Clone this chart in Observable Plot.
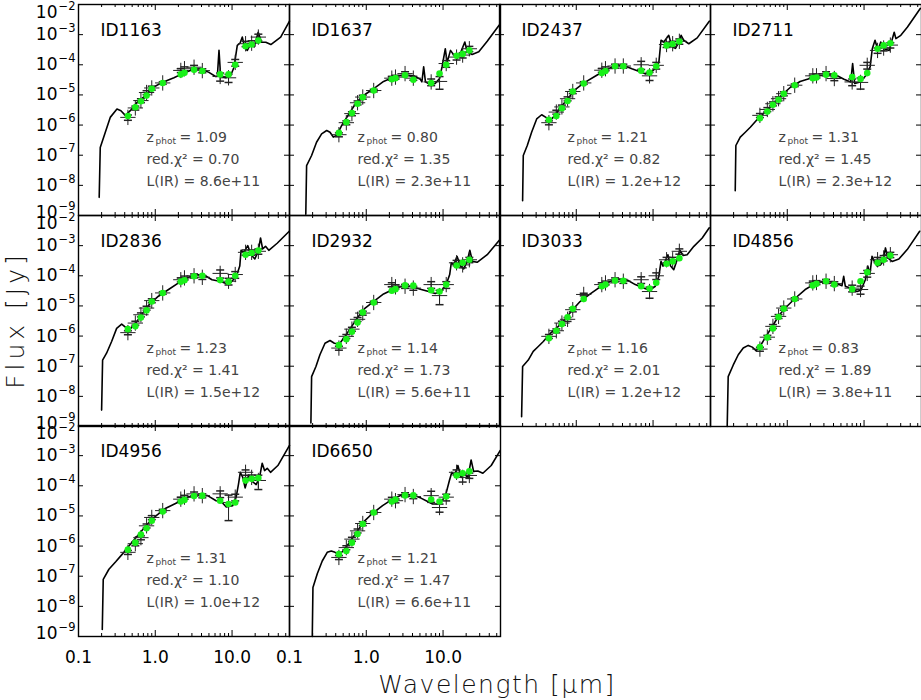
<!DOCTYPE html>
<html>
<head>
<meta charset="utf-8">
<script src="https://cdn.jsdelivr.net/npm/d3@7"></script>
<script src="https://cdn.jsdelivr.net/npm/@observablehq/plot@0.6"></script>
<style>
  body { margin: 0; background: #fff; }
  #chart { position: relative; width: 921px; height: 700px; font-family: "DejaVu Sans", sans-serif; overflow: hidden; }
  .panel { position: absolute; }
  #ytitle { position: absolute; left: 15px; top: 320px; transform: translate(-50%, -50%) rotate(-90deg);
            font-size: 25px; letter-spacing: 4px; font-weight: 300; color: #111; white-space: nowrap; }
  #xtitle { position: absolute; left: 497px; top: 684px; transform: translate(-50%, -50%);
            font-size: 25px; letter-spacing: 1.5px; font-weight: 300; color: #111; white-space: nowrap; }
</style>
</head>
<body>
<div id="chart">
  <div id="ytitle">Flux [Jy]</div>
  <div id="xtitle">Wavelength [μm]</div>
</div>
<script>
// filter wavelengths (micron) of the photometric points
const filterLam = [0.44, 0.55, 0.65, 0.77, 0.90, 1.25, 2.15, 2.4, 3.2, 4.1, 7.0, 9.0, 11.0, 15.0, 18.0, 22.0];

const ids = ["ID1163", "ID1637", "ID2437", "ID2711", "ID2836", "ID2932", "ID3033", "ID4856", "ID4956", "ID6650"];
const zphot = [1.09, 0.80, 1.21, 1.31, 1.23, 1.14, 1.16, 0.83, 1.31, 1.21];
const redChi2 = [0.70, 1.35, 0.82, 1.45, 1.41, 1.73, 2.01, 1.89, 1.10, 1.47];
const lirText = ["8.6e+11", "2.3e+11", "1.2e+12", "2.3e+12", "1.5e+12", "5.6e+11", "1.2e+12", "3.8e+11", "1.0e+12", "6.6e+11"];

// axis ticks
const xMajor = [0.1, 1, 10];
const xTickText = ["0.1", "1.0", "10.0"];
const xMinor = [0.2, 0.3, 0.4, 0.5, 0.6, 0.7, 0.8, 0.9, 2, 3, 4, 5, 6, 7, 8, 9, 20, 30, 40, 50];
const yDecades = [1e-9, 1e-8, 1e-7, 1e-6, 1e-5, 1e-4, 1e-3, 1e-2];

// ---- ID1163
const sedLam1163 = [0.186,0.192,0.223,0.259,0.317,0.357,0.407,0.473,0.579,0.744,0.91,1.23,1.75,2.24,3.03,3.89,5.0,6.1,6.43,6.76,7.1,8.3,9.6,10.6,11.7,12.7,13.6,14.6,15.8,17.5,19.4,21.9,24.2,27.5,32,43,56];
const sedFlux1163 = [4.0e-9,1.8e-7,5.7e-7,1.8e-6,3.4e-6,3.0e-6,2.1e-6,3.0e-6,5.7e-6,9.5e-6,1.7e-5,2.6e-5,3.7e-5,5.0e-5,6.9e-5,7.4e-5,5.6e-5,4.1e-5,4.1e-5,3.0e-4,4.1e-5,3.7e-5,4.4e-5,8.3e-5,4.4e-4,5.2e-4,8.3e-4,3.9e-4,3.0e-4,5.0e-4,3.9e-4,1.2e-3,5.6e-4,5.6e-4,4.7e-4,8.3e-4,2.8e-3];
const model1163 = [2.0e-6,3.9e-6,6.2e-6,9.5e-6,1.6e-5,2.5e-5,4.8e-5,5.4e-5,6.8e-5,6.2e-5,4.8e-5,4.8e-5,1.0e-4,4.1e-4,4.7e-4,6.4e-4];
const obs1163 = [1.8e-6,3.7e-6,6.5e-6,1.2e-5,1.7e-5,2.5e-5,6.5e-5,7.4e-5,8.3e-5,6.4e-5,4.1e-5,3.7e-5,1.2e-4,5.0e-4,5.2e-4,8.3e-4];
const err1163 = [0.2,0.15,0.15,0.15,0.15,0.1,0.15,0.15,0.15,0.15,0.3,0.3,0.25,0.2,0.2,0.25];

// ---- ID1637
const sedLam1637 = [0.163,0.167,0.194,0.225,0.262,0.305,0.337,0.372,0.411,0.479,0.615,0.75,0.92,1.24,1.68,2.26,3.06,4.14,5.06,5.3,5.59,5.9,6.8,7.9,9.0,9.7,10.7,11.3,12.5,13.8,15.2,16.9,19.2,20.6,23.9,29.2,37.6,54];
const sedFlux1637 = [1.1e-9,4.5e-8,9.8e-8,2.7e-7,5.1e-7,6.6e-7,5.8e-7,4.0e-7,4.5e-7,9.7e-7,2.7e-6,5.8e-6,9.6e-6,1.6e-5,2.8e-5,3.9e-5,4.7e-5,4.3e-5,3.3e-5,2.7e-5,8.5e-5,2.7e-5,2.2e-5,2.4e-5,3.5e-5,8.5e-5,3.4e-4,1.2e-4,3.0e-4,2.1e-4,1.6e-4,2.5e-4,5.7e-4,2.7e-4,2.2e-4,2.7e-4,6.0e-4,2.1e-3];
const model1637 = [5.5e-7,1.25e-6,2.5e-6,5.1e-6,8.3e-6,1.4e-5,3.3e-5,3.6e-5,4.5e-5,3.2e-5,2.5e-5,5.1e-5,1.0e-4,2.0e-4,2.3e-4,3.0e-4];
const obs1637 = [4.8e-7,1.2e-6,2.4e-6,5.5e-6,8.5e-6,1.4e-5,3.6e-5,3.9e-5,5.1e-5,3.6e-5,2.7e-5,2.8e-5,1.1e-4,1.8e-4,2.1e-4,3.4e-4];
const err1637 = [0.15,0.15,0.15,0.15,0.15,0.1,0.15,0.15,0.15,0.15,0.25,0.45,0.25,0.2,0.2,0.2];

// ---- ID2437
const sedLam2437 = [0.2,0.204,0.23,0.262,0.305,0.354,0.403,0.455,0.529,0.646,0.79,0.967,1.26,1.85,2.5,3.2,4.14,5.3,6.5,7.9,9.2,10.7,11.9,12.7,13.8,16.0,17.7,19.6,21.7,23.2,25.1,29.2,37.6,54];
const sedFlux2437 = [3.1e-9,9.8e-8,2.1e-7,5.8e-7,1.6e-6,2.2e-6,1.8e-6,1.4e-6,2.1e-6,4.3e-6,7.9e-6,1.5e-5,2.5e-5,4.5e-5,6.9e-5,9.5e-5,9.5e-5,7.4e-5,6.1e-5,5.0e-5,5.5e-5,7.4e-5,1.2e-4,6.5e-4,5.7e-4,9.5e-4,3.9e-4,3.5e-4,5.7e-4,9.5e-4,6.5e-4,5.0e-4,7.8e-4,2.8e-3];
const model2437 = [1.5e-6,2.0e-6,3.6e-6,6.3e-6,1.3e-5,2.4e-5,5.3e-5,6.2e-5,8.9e-5,8.9e-5,6.4e-5,5.5e-5,8.9e-5,4.4e-4,4.9e-4,5.9e-4];
const obs2437 = [1.2e-6,2.7e-6,4.0e-6,7.5e-6,1.3e-5,2.5e-5,6.6e-5,7.4e-5,9.1e-5,9.1e-5,1.0e-4,4.3e-5,9.6e-5,4.7e-4,5.0e-4,6.0e-4];
const err2437 = [0.15,0.15,0.15,0.15,0.15,0.1,0.15,0.15,0.15,0.15,0.3,0.3,0.25,0.2,0.2,0.2];

// ---- ID2711
const sedLam2711 = [0.21,0.214,0.244,0.284,0.33,0.403,0.513,0.667,0.855,1.1,1.47,2.01,2.71,3.48,4.48,5.48,6.7,7.1,7.55,8.9,10.5,12.0,12.8,13.9,15.2,16.5,18.2,21.2,24.7,26,30.1,36.8,54];
const sedFlux2711 = [6.6e-9,2.1e-7,4.0e-7,5.8e-7,8.5e-7,1.5e-6,2.7e-6,5.1e-6,1.0e-5,1.8e-5,2.8e-5,3.6e-5,4.5e-5,4.7e-5,4.3e-5,3.3e-5,2.7e-5,1.1e-4,2.4e-5,2.7e-5,4.3e-5,8.5e-5,3.4e-4,6.5e-4,3.0e-4,5.7e-4,3.4e-4,3.0e-4,1.2e-3,7.4e-4,9.5e-4,1.8e-3,7.4e-3];
const model2711 = [1.7e-6,2.8e-6,4.7e-6,6.9e-6,1.1e-5,2.1e-5,3.6e-5,3.8e-5,4.7e-5,4.5e-5,3.9e-5,3.4e-5,5.3e-5,3.4e-4,4.4e-4,5.2e-4];
const obs2711 = [2.1e-6,3.3e-6,5.1e-6,7.5e-6,1.1e-5,2.1e-5,4.3e-5,4.3e-5,5.1e-5,3.5e-5,2.7e-5,2.6e-5,9.6e-5,3.0e-4,3.6e-4,4.5e-4];
const err2711 = [0.15,0.15,0.15,0.15,0.15,0.1,0.15,0.15,0.15,0.15,0.25,0.4,0.25,0.2,0.2,0.2];

// ---- ID2836
const sedLam2836 = [0.2,0.206,0.232,0.27,0.314,0.365,0.416,0.469,0.561,0.687,0.855,1.1,1.49,2.01,2.72,3.49,4.48,5.48,6.9,8.4,9.7,11.4,12.6,13.1,14.2,16.0,17.7,19.8,21.9,23.5,25,27.3,30.1,38.7,55.6];
const sedFlux2836 = [3.5e-9,1.6e-7,2.7e-7,6.6e-7,1.8e-6,2.5e-6,1.9e-6,1.7e-6,2.8e-6,5.8e-6,1.2e-5,2.1e-5,3.5e-5,5.8e-5,8.9e-5,1.1e-4,1.0e-4,7.4e-5,6.6e-5,5.5e-5,6.1e-5,9.6e-5,2.1e-4,7.0e-4,6.0e-4,1.0e-3,5.0e-4,3.6e-4,6.5e-4,1.8e-3,7.8e-4,9.5e-4,7.0e-4,1.2e-3,3.0e-3];
const model2836 = [1.7e-6,2.1e-6,4.1e-6,7.1e-6,1.4e-5,2.7e-5,6.4e-5,7.1e-5,9.6e-5,1.0e-4,7.2e-5,6.4e-5,1.0e-4,5.0e-4,5.7e-4,6.9e-4];
const obs2836 = [1.3e-6,2.7e-6,5.1e-6,8.5e-6,1.5e-5,2.7e-5,7.4e-5,8.5e-5,1.0e-4,8.9e-5,1.2e-4,6.6e-5,1.1e-4,6.0e-4,6.0e-4,6.5e-4];
const err2836 = [0.15,0.15,0.15,0.15,0.15,0.1,0.15,0.15,0.15,0.15,0.3,0.25,0.25,0.2,0.2,0.2];

// ---- ID2932
const sedLam2932 = [0.19,0.194,0.221,0.249,0.29,0.337,0.384,0.446,0.529,0.646,0.79,0.967,1.24,1.68,2.26,2.91,3.82,5.06,6.5,7.9,9.4,11.0,12.2,12.8,13.8,15.2,16.9,18.6,20.6,22.3,24.2,27.8,37.6,54];
const sedFlux2932 = [1.3e-9,4.5e-8,9.8e-8,2.4e-7,5.8e-7,7.1e-7,5.8e-7,5.5e-7,9.8e-7,2.1e-6,4.5e-6,8.5e-6,1.4e-5,2.5e-5,3.6e-5,4.5e-5,4.5e-5,3.6e-5,3.0e-5,2.6e-5,3.0e-5,5.1e-5,1.1e-4,2.7e-4,2.3e-4,4.4e-4,2.1e-4,1.7e-4,3.0e-4,7.0e-4,3.0e-4,2.8e-4,5.0e-4,1.5e-3];
const model2932 = [5.0e-7,7.9e-7,1.4e-6,2.8e-6,6.1e-6,1.3e-5,3.2e-5,3.6e-5,4.8e-5,4.7e-5,3.3e-5,3.0e-5,5.1e-5,2.2e-4,2.7e-4,3.4e-4];
const obs2932 = [4.0e-7,9.8e-7,1.7e-6,3.6e-6,5.8e-6,1.3e-5,5.1e-5,4.3e-5,4.5e-5,3.9e-5,5.1e-5,2.2e-5,5.1e-5,2.7e-4,2.3e-4,3.4e-4];
const err2932 = [0.15,0.15,0.15,0.15,0.15,0.1,0.15,0.15,0.15,0.15,0.25,0.5,0.25,0.2,0.2,0.2];

// ---- ID3033
const sedLam3033 = [0.194,0.2,0.237,0.275,0.32,0.372,0.455,0.585,0.714,0.873,1.12,1.52,2.05,2.77,3.56,4.67,5.87,7.55,9.0,10.7,11.9,12.7,13.5,15.6,16.9,18.6,20.6,22.3,24.7,27.8,34,43.7,54];
const sedFlux3033 = [2.1e-9,9.8e-8,1.6e-7,3.1e-7,4.5e-7,6.6e-7,1.2e-6,2.1e-6,3.6e-6,6.9e-6,1.4e-5,2.5e-5,4.3e-5,6.6e-5,7.8e-5,7.1e-5,5.1e-5,3.9e-5,3.3e-5,4.5e-5,9.6e-5,3.0e-4,2.1e-4,5.0e-4,2.1e-4,1.6e-4,3.4e-4,7.0e-4,4.7e-4,5.0e-4,9.5e-4,1.8e-3,3.9e-3];
const model3033 = [8.5e-7,1.5e-6,2.5e-6,4.2e-6,8.1e-6,1.7e-5,4.5e-5,5.1e-5,6.9e-5,6.8e-5,4.5e-5,3.8e-5,5.9e-5,2.5e-4,3.0e-4,3.8e-4];
const obs3033 = [9.8e-7,1.5e-6,2.7e-6,3.6e-6,7.5e-6,2.4e-5,5.1e-5,5.8e-5,7.4e-5,6.6e-5,7.4e-5,3.0e-5,1.0e-4,3.4e-4,3.4e-4,6.5e-4];
const err3033 = [0.15,0.15,0.15,0.15,0.15,0.1,0.15,0.15,0.15,0.15,0.25,0.4,0.25,0.2,0.2,0.2];

// ---- ID4856
const sedLam4856 = [0.165,0.17,0.198,0.23,0.267,0.31,0.35,0.392,0.441,0.529,0.646,0.79,0.985,1.27,1.71,2.31,3.13,4.22,5.16,5.43,5.7,6.6,8.1,9.1,10.4,11.2,11.9,12.7,13.6,14.8,16.4,17.7,19.0,20.4,23.2,28.4,36.5,53];
const sedFlux4856 = [1.0e-9,4.5e-8,1.1e-7,2.4e-7,4.0e-7,4.9e-7,4.3e-7,3.3e-7,4.5e-7,9.8e-7,2.2e-6,5.1e-6,9.6e-6,1.8e-5,3.5e-5,5.5e-5,6.9e-5,5.8e-5,4.7e-5,9.6e-5,4.5e-5,3.9e-5,3.0e-5,3.3e-5,7.4e-5,2.1e-4,1.1e-4,4.4e-4,3.0e-4,2.1e-4,2.3e-4,3.0e-4,8.4e-4,3.9e-4,3.0e-4,3.6e-4,7.4e-4,3.0e-3];
const model4856 = [4.3e-7,8.9e-7,1.8e-6,4.3e-6,8.1e-6,1.7e-5,4.8e-5,5.4e-5,6.6e-5,5.1e-5,3.6e-5,6.6e-5,1.3e-4,2.7e-4,3.4e-4,4.7e-4];
const obs4856 = [3.7e-7,9.2e-7,2.1e-6,4.5e-6,8.5e-6,1.7e-5,5.8e-5,6.0e-5,6.6e-5,5.5e-5,3.9e-5,3.5e-5,1.2e-4,3.4e-4,3.9e-4,5.0e-4];
const err4856 = [0.15,0.15,0.15,0.15,0.15,0.1,0.15,0.15,0.15,0.15,0.25,0.3,0.25,0.2,0.2,0.2];

// ---- ID4956
const sedLam4956 = [0.204,0.21,0.249,0.305,0.372,0.479,0.615,0.79,1.02,1.37,1.95,2.63,3.56,4.8,6.2,7.2,8.4,10.2,11.3,12.1,12.8,13.8,14.8,16.4,17.7,20.6,22.8,24.7,26.5,28.7,31.7,39.5,56];
const sedFlux4956 = [1.7e-9,7.9e-8,1.7e-7,3.0e-7,5.4e-7,1.2e-6,2.5e-6,5.4e-6,1.0e-5,1.8e-5,2.8e-5,4.2e-5,4.9e-5,4.7e-5,3.2e-5,3.0e-5,2.0e-5,2.2e-5,4.2e-5,1.1e-4,2.8e-4,1.9e-4,8.5e-5,2.2e-4,1.5e-4,1.1e-4,1.9e-4,5.6e-4,3.2e-4,3.8e-4,2.8e-4,4.7e-4,2.2e-3];
const model4956 = [7.6e-7,1.3e-6,2.4e-6,3.9e-6,6.9e-6,1.4e-5,3.0e-5,3.4e-5,4.6e-5,4.7e-5,3.2e-5,2.5e-5,2.8e-5,1.5e-4,1.7e-4,1.8e-4];
const obs4956 = [6.2e-7,1.2e-6,1.9e-6,4.7e-6,8.9e-6,1.5e-5,3.6e-5,4.2e-5,5.4e-5,4.7e-5,5.4e-5,2.8e-5,4.2e-5,2.8e-4,1.9e-4,1.5e-4];
const err4956 = [0.15,0.15,0.15,0.15,0.15,0.1,0.15,0.15,0.15,0.15,0.25,0.75,0.25,0.2,0.2,0.5];

// ---- ID6650
const sedLam6650 = [0.198,0.202,0.23,0.267,0.31,0.35,0.392,0.441,0.513,0.627,0.767,0.937,1.2,1.63,2.2,2.97,4.01,5.15,6.3,7.3,8.5,9.9,10.9,12.1,13.0,14.1,15.6,17.2,19.0,21.0,23.2,25,28.4,33,42.4,55.6];
const sedFlux6650 = [1.0e-9,4.2e-8,1.2e-7,3.2e-7,6.2e-7,6.9e-7,6.2e-7,5.1e-7,7.4e-7,1.5e-6,3.2e-6,6.6e-6,1.2e-5,2.2e-5,3.6e-5,5.1e-5,5.0e-5,3.9e-5,3.0e-5,2.5e-5,2.5e-5,3.4e-5,5.4e-5,1.5e-4,2.8e-4,2.2e-4,4.7e-4,1.9e-4,2.6e-4,1.8e-4,7.2e-4,3.0e-4,3.1e-4,2.6e-4,4.7e-4,1.5e-3];
const model6650 = [5.4e-7,6.9e-7,1.3e-6,2.5e-6,5.4e-6,1.3e-5,3.0e-5,3.5e-5,4.8e-5,4.8e-5,3.5e-5,3.0e-5,4.4e-5,2.2e-4,2.6e-4,3.0e-4];
const obs6650 = [4.2e-7,8.9e-7,1.7e-6,3.2e-6,5.6e-6,1.3e-5,3.6e-5,3.2e-5,5.1e-5,4.4e-5,4.7e-5,1.9e-5,4.2e-5,2.8e-4,1.9e-4,2.2e-4];
const err6650 = [0.15,0.15,0.15,0.15,0.15,0.1,0.15,0.15,0.15,0.15,0.4,0.3,0.25,0.2,0.3,0.2];

const panels = [
  [sedLam1163, sedFlux1163, model1163, obs1163, err1163],
  [sedLam1637, sedFlux1637, model1637, obs1637, err1637],
  [sedLam2437, sedFlux2437, model2437, obs2437, err2437],
  [sedLam2711, sedFlux2711, model2711, obs2711, err2711],
  [sedLam2836, sedFlux2836, model2836, obs2836, err2836],
  [sedLam2932, sedFlux2932, model2932, obs2932, err2932],
  [sedLam3033, sedFlux3033, model3033, obs3033, err3033],
  [sedLam4856, sedFlux4856, model4856, obs4856, err4856],
  [sedLam4956, sedFlux4956, model4956, obs4956, err4956],
  [sedLam6650, sedFlux6650, model6650, obs6650, err6650]
].map(([sedLam, sedFlux, model, obs, err], i) => ({
  id: ids[i], z: zphot[i], chi2: redChi2[i], lir: lirText[i], sedLam, sedFlux, model, obs, err
}));

const W = 211, H = 211;
const grey = "#444";
const green = "#19f019";

// horizontal bar used as the error-bar cap
const capSymbol = {
  draw(ctx, size) {
    const r = Math.sqrt(size / Math.PI);
    ctx.moveTo(-r, 0);
    ctx.lineTo(r, 0);
  }
};

const expText = d => String(Math.round(Math.log10(d))).replace("-", "\u2212");

function yLabelMarks(values, dy) {
  return [
    Plot.text(values, {y: d => d, frameAnchor: "left", lineAnchor: "middle", dx: -21, dy, textAnchor: "end", text: () => "10", fontSize: 17, fill: "black"}),
    Plot.text(values, {y: d => d, frameAnchor: "left", lineAnchor: "middle", dx: -3, dy: dy - 6.5, textAnchor: "end", text: expText, fontSize: 11.5, fill: "black"})
  ];
}

// small helper for the in-panel text lines
const note = (dx, dy, text, fontSize, fill) =>
  ({frameAnchor: "top-left", lineAnchor: "middle", textAnchor: "start", dx, dy, text, fontSize, fill});

function drawPanel(p, i) {
  const col = i % 4, row = Math.floor(i / 4);
  const sed = p.sedLam.map((lam, k) => ({lam, flux: p.sedFlux[k]}));
  const phot = filterLam.map((lam, k) => ({
    lam,
    model: p.model[k],
    obs: p.obs[k],
    lo: p.obs[k] * (1 - p.err[k]),
    hi: p.obs[k] * (1 + p.err[k])
  }));

  const marks = [
    // inward ticks on all four sides
    Plot.ruleX(xMinor, {x: d => d, insetTop: H - 3, stroke: "black"}),
    Plot.ruleX(xMinor, {x: d => d, insetBottom: H - 3, stroke: "black"}),
    Plot.ruleX(xMajor, {x: d => d, insetTop: H - 6, stroke: "black"}),
    Plot.ruleX(xMajor, {x: d => d, insetBottom: H - 6, stroke: "black"}),
    Plot.ruleY(yDecades, {y: d => d, insetRight: W - 5, stroke: "black"}),
    Plot.ruleY(yDecades, {y: d => d, insetLeft: W - 5, stroke: "black"}),
    // SED template
    Plot.line(sed, {x: "lam", y: "flux", stroke: "black", strokeWidth: 1.6}),
    // observed photometry with error bars
    Plot.ruleX(phot, {x: "lam", y1: "lo", y2: "hi", stroke: "#222", strokeWidth: 1}),
    Plot.dot(phot, {x: "lam", y: "lo", symbol: capSymbol, r: 4, stroke: "#222", fill: "none"}),
    Plot.dot(phot, {x: "lam", y: "hi", symbol: capSymbol, r: 4, stroke: "#222", fill: "none"}),
    Plot.dot(phot, {x: "lam", y: "obs", symbol: "plus", r: 5, stroke: "#222", fill: "none", strokeWidth: 1}),
    // model fluxes
    Plot.dot(phot, {x: "lam", y: "model", r: 3.3, fill: green, stroke: "none"}),
    Plot.frame({stroke: "black", strokeWidth: 1.4}),
    // labels
    Plot.text([p], note(22, 26, d => d.id, 17, "black")),
    Plot.text([p], note(68, 133, () => "z", 14, grey)),
    Plot.text([p], note(77, 137, () => "phot", 9, grey)),
    Plot.text([p], note(101, 133, d => "= " + d.z.toFixed(2), 14, grey)),
    Plot.text([p], note(68, 155, d => "red.\u03c7\u00b2 = " + d.chi2.toFixed(2), 14, grey)),
    Plot.text([p], note(68, 177, d => "L(IR) = " + d.lir, 14, grey))
  ];

  if (col === 0) {
    marks.push(...yLabelMarks(yDecades.slice(1, -1), 0));
    marks.push(...yLabelMarks([1e-2], 8));
    marks.push(...yLabelMarks([1e-9], -3));
  }
  if (row === 2) {
    marks.push(Plot.text(xMajor, {x: d => d, frameAnchor: "bottom", lineAnchor: "middle", dy: 21, text: (d, k) => xTickText[k], fontSize: 17, fill: "black"}));
  }

  const svg = Plot.plot({
    width: W,
    height: H,
    margin: 0,
    x: {type: "log", domain: [0.1, 56], axis: null},
    y: {type: "log", domain: [1e-9, 1e-2], axis: null},
    style: {overflow: "visible", background: "transparent", fontFamily: "DejaVu Sans"},
    marks
  });

  const holder = document.createElement("div");
  holder.className = "panel";
  holder.style.left = (78 + col * 210.5) + "px";
  holder.style.top = (4 + row * 210.7) + "px";
  holder.appendChild(svg);
  document.getElementById("chart").appendChild(holder);
}

panels.forEach(drawPanel);
</script>
</body>
</html>
